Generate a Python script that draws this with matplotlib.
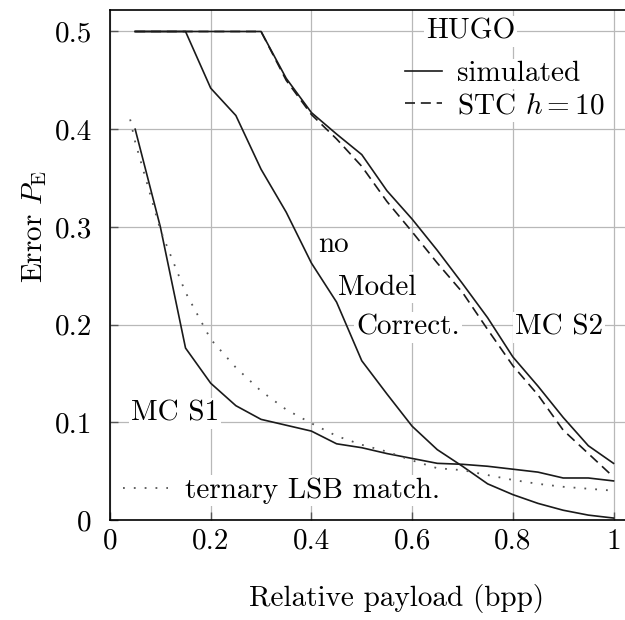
import matplotlib
matplotlib.use("Agg")
import matplotlib.pyplot as plt
from matplotlib.lines import Line2D
from matplotlib.ticker import FuncFormatter

# payload grid shared by the simulated / STC curves
payload = [0.05, 0.10, 0.15, 0.20, 0.25, 0.30, 0.35, 0.40, 0.45, 0.50,
           0.55, 0.60, 0.65, 0.70, 0.75, 0.80, 0.85, 0.90, 0.95, 1.00]

mc_s1 = [0.400, 0.300, 0.176, 0.140, 0.117, 0.103, 0.097, 0.091, 0.078, 0.074,
         0.068, 0.063, 0.058, 0.057, 0.055, 0.052, 0.049, 0.043, 0.043, 0.040]
no_model = [0.500, 0.500, 0.500, 0.442, 0.414, 0.359, 0.315, 0.263, 0.223, 0.163,
            0.129, 0.096, 0.072, 0.055, 0.037, 0.026, 0.017, 0.010, 0.005, 0.002]
mc_s2 = [0.500, 0.500, 0.500, 0.500, 0.500, 0.500, 0.452, 0.417, 0.395, 0.374,
         0.337, 0.308, 0.276, 0.242, 0.207, 0.167, 0.137, 0.105, 0.076, 0.058]
stc_s2 = [0.500, 0.500, 0.500, 0.500, 0.500, 0.500, 0.450, 0.415, 0.390, 0.362,
          0.326, 0.295, 0.263, 0.233, 0.195, 0.158, 0.128, 0.092, 0.068, 0.044]

# ternary LSB matching reference curve
lsb_payload = [0.04, 0.05, 0.10, 0.15, 0.20, 0.25, 0.30, 0.35, 0.40, 0.45, 0.50,
               0.55, 0.60, 0.65, 0.70, 0.75, 0.80, 0.85, 0.90, 0.95, 1.00]
lsb_error = [0.410, 0.387, 0.297, 0.233, 0.185, 0.156, 0.132, 0.113, 0.099, 0.086, 0.077,
             0.070, 0.061, 0.053, 0.051, 0.046, 0.041, 0.037, 0.034, 0.032, 0.030]

x_ticks = [0, 0.2, 0.4, 0.6, 0.8, 1.0]
y_ticks = [0, 0.1, 0.2, 0.3, 0.4, 0.5]

plt.rcParams["font.family"] = "cmr10"
plt.rcParams["mathtext.fontset"] = "cm"
plt.rcParams["axes.formatter.use_mathtext"] = True
plt.rcParams["font.size"] = 21

fig = plt.figure(figsize=(6.25, 6.2), dpi=100)
ax = fig.add_axes([110 / 625, 100 / 620, 574 / 625, 510 / 620])

ink = "#1a1a1a"
lw = 1.2
dash = (6, 3.5)
dot_color = "#555555"
ax.plot(payload, mc_s1, color=ink, lw=lw, zorder=4)
ax.plot(payload, no_model, color=ink, lw=lw, zorder=4)
ax.plot(payload, stc_s2, color=ink, lw=lw, dashes=dash, zorder=4)
ax.plot(payload, mc_s2, color=ink, lw=lw, zorder=4)
ax.plot(lsb_payload, lsb_error, color=dot_color, lw=1.3, linestyle=(0, (1, 5)), zorder=4)

ax.set_xlim(0, 1.14)
ax.set_ylim(0, 0.522)
ax.set_xticks(x_ticks)
ax.set_yticks(y_ticks)
fmt = FuncFormatter(lambda v, pos: "%g" % v)
ax.xaxis.set_major_formatter(fmt)
ax.yaxis.set_major_formatter(fmt)
ax.tick_params(direction="in", length=6, width=1, color="#555555")
ax.tick_params(axis="x", pad=6)
ax.tick_params(axis="y", pad=13)
ax.grid(True, color="#b8b8b8", lw=0.9)
ax.set_axisbelow(True)
for s in ax.spines.values():
    s.set_linewidth(1.2)

ax.set_xlabel("Relative payload (bpp)")
ax.xaxis.set_label_coords(0.5, -0.125)
ax.set_ylabel(r"Error $P_{\mathrm{E}}$")
ax.yaxis.set_label_coords(-0.107, 0.575)

box = dict(facecolor="white", edgecolor="none", pad=1.5)
ax.text(0.414, 0.282, "no", va="center", bbox=box, zorder=3)
ax.text(0.453, 0.238, "Model", va="center", bbox=box, zorder=3)
ax.text(0.489, 0.197, "Correct.", va="center", bbox=box, zorder=3)
ax.text(0.805, 0.197, "MC S2", va="center", bbox=box, zorder=3)
ax.text(0.042, 0.109, "MC S1", va="center", bbox=box, zorder=3)
ax.text(0.628, 0.500, "HUGO", va="center", bbox=box, zorder=3)

hugo = ax.legend(
    [Line2D([], [], color=ink, lw=lw), Line2D([], [], color=ink, lw=lw, dashes=dash)],
    ["simulated", r"STC $h = 10$"],
    loc="upper left", bbox_to_anchor=(0.585, 0.47), bbox_transform=ax.transData,
    frameon=False, handlelength=1.3, handletextpad=0.5, labelspacing=0.2,
    borderpad=0, borderaxespad=0)
for t in hugo.get_texts():
    t.set_bbox(box)
ax.add_artist(hugo)

lsb = ax.legend(
    [Line2D([], [], color=dot_color, lw=1.3, linestyle=(0, (1, 5)))],
    ["ternary LSB match."],
    loc="center left", bbox_to_anchor=(0.025, 0.030), bbox_transform=ax.transData,
    frameon=False, handlelength=1.55, handletextpad=0.6,
    borderpad=0, borderaxespad=0)
for t in lsb.get_texts():
    t.set_bbox(box)

fig.savefig("out.png", dpi=100)
